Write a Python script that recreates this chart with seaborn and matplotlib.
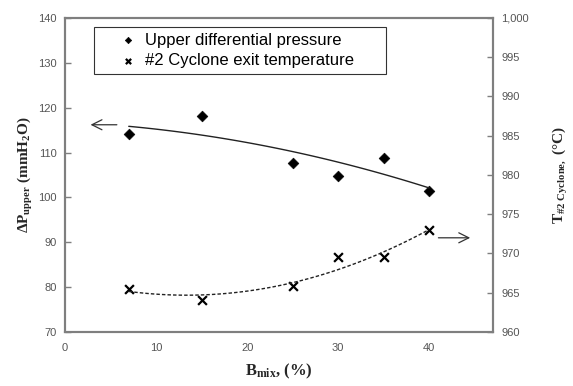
import numpy as np
import pandas as pd
import matplotlib
matplotlib.use("Agg")
import matplotlib.pyplot as plt
import seaborn as sns

# Data
b_mix = [7, 15, 25, 30, 35, 40]
dp_upper = [114.1, 118.2, 107.7, 104.8, 108.9, 101.4]
t_cyclone = [965.5, 964.1, 965.8, 969.5, 969.5, 973.0]
x_ticks = [0, 10, 20, 30, 40]
left_ticks = [70, 80, 90, 100, 110, 120, 130, 140]
right_ticks = [960, 965, 970, 975, 980, 985, 990, 995, 1000]
right_labels = ["960", "965", "970", "975", "980", "985", "990", "995", "1,000"]

sns.set_style("white")
plt.rcParams["font.family"] = ["Liberation Sans", "DejaVu Sans"]
plt.rcParams["mathtext.fontset"] = "custom"
plt.rcParams["mathtext.rm"] = "Liberation Serif:bold"
plt.rcParams["mathtext.it"] = "Liberation Serif:bold"
plt.rcParams["mathtext.bf"] = "Liberation Serif:bold"

df = pd.DataFrame({"b": b_mix, "dp": dp_upper, "t": t_cyclone})

# quadratic trend lines from the data
xs = np.linspace(min(b_mix), max(b_mix), 100)
fit_dp = pd.DataFrame({"b": xs, "v": np.polyval(np.polyfit(b_mix, dp_upper, 2), xs)})
fit_t = pd.DataFrame({"b": xs, "v": np.polyval(np.polyfit(b_mix, t_cyclone, 2), xs)})

fig = plt.figure(figsize=(5.73, 3.86), dpi=100)
ax = fig.add_axes([65/573, 1-332/386, 428/573, 314/386])
ax2 = ax.twinx()

sns.lineplot(data=fit_dp, x="b", y="v", ax=ax, color="#222222", lw=1.0)
sns.scatterplot(data=df, x="b", y="dp", ax=ax, marker="D", s=30, color="black",
                edgecolor="black", label="Upper differential pressure", legend=False)
sns.lineplot(data=fit_t, x="b", y="v", ax=ax2, color="#222222", lw=1.0, linestyle=(0, (2.5, 1.5)))
sns.scatterplot(data=df, x="b", y="t", ax=ax2, marker="x", s=40, color="black",
                linewidth=1.6, label="#2 Cyclone exit temperature", legend=False)

ax.set_xlim(0, 47)
ax.set_ylim(70, 140)
ax2.set_ylim(960, 1000)
ax.set_xticks(x_ticks)
ax.set_yticks(left_ticks)
ax2.set_yticks(right_ticks)
ax2.set_yticklabels(right_labels)

spine_c = "#7f7f7f"
for a in (ax, ax2):
    for s in a.spines.values():
        s.set_color(spine_c)
        s.set_linewidth(1.5)
    a.tick_params(direction="in", length=4, width=1.0, color=spine_c,
                  labelsize=8, labelcolor="#555555", pad=6)
ax.tick_params(axis="x", pad=8)

ax.set_xlabel(r"$\mathrm{B_{mix}}$, (%)", fontsize=12, fontfamily="Liberation Serif",
              fontweight="bold", labelpad=6)
ax.set_ylabel(r"$\Delta\mathrm{P_{upper}}$ (mmH$_2$O)", fontsize=11,
              fontfamily="Liberation Serif", fontweight="bold", labelpad=2)
ax2.set_ylabel(r"$\mathrm{T}_{\#2\ \mathrm{Cyclone},}$ (°C)", fontsize=11,
               fontfamily="Liberation Serif", fontweight="bold", labelpad=16)

# arrows pointing to axes
ax.annotate("", xy=(2.5, 116.2), xytext=(6.0, 116.2),
            arrowprops=dict(arrowstyle="->", color="#333333", lw=0.9, mutation_scale=18))
ax2.annotate("", xy=(44.8, 972.0), xytext=(40.7, 972.0),
             arrowprops=dict(arrowstyle="->", color="#333333", lw=0.9, mutation_scale=18))

h1, l1 = ax.get_legend_handles_labels()
h2, l2 = ax2.get_legend_handles_labels()
leg = ax2.legend(h1 + h2, l1 + l2, loc="upper left",
                 bbox_to_anchor=(0.068, 0.5, 0.682, 0.472), mode="expand",
                 borderaxespad=0, frameon=True, fancybox=False, fontsize=12,
                 markerscale=0.6, handletextpad=-0.7, handlelength=3.4,
                 borderpad=0.35, labelspacing=0.35)
leg.get_frame().set_edgecolor("black")
leg.get_frame().set_linewidth(0.8)
for t in leg.get_texts():
    t.set_color("black")

fig.savefig("out.png", dpi=100)
